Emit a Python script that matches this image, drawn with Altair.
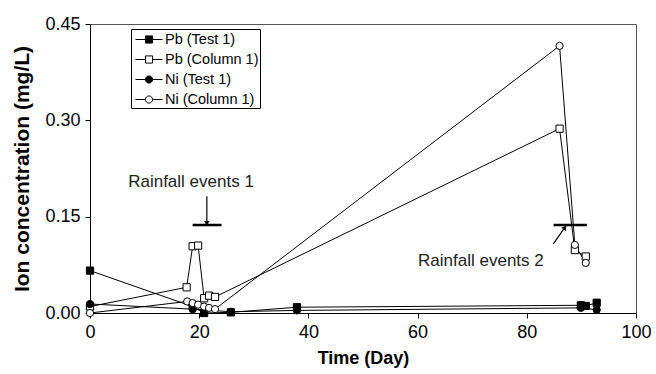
import altair as alt
import pandas as pd

series_names = ["Pb (Test 1)", "Pb (Column 1)", "Ni (Test 1)", "Ni (Column 1)"]

pb_test_day = [0, 18.8, 20.9, 25.8, 37.9, 89.9, 90.8, 92.8]
pb_test_val = [0.066, 0.010, 0.0, 0.001, 0.009, 0.012, 0.011, 0.016]
pb_col_day = [0, 17.7, 18.8, 19.8, 20.9, 21.8, 22.9, 86.0, 88.8, 90.8]
pb_col_val = [0.010, 0.040, 0.104, 0.105, 0.023, 0.027, 0.025, 0.287, 0.098, 0.088]
ni_test_day = [0, 18.8, 25.8, 37.9, 89.9, 92.8]
ni_test_val = [0.014, 0.006, 0.002, 0.004, 0.008, 0.005]
ni_col_day = [0, 17.8, 18.8, 19.8, 20.9, 21.8, 22.9, 86.0, 88.8, 90.8]
ni_col_val = [0.0, 0.018, 0.0155, 0.013, 0.010, 0.008, 0.006, 0.416, 0.106, 0.078]

x_ticks = [0, 20, 40, 60, 80, 100]
y_ticks = [0.0, 0.15, 0.30, 0.45]

# annotations (data units)
ann_text = ["Rainfall events 1", "Rainfall events 2"]
ann_x = [18.5, 71.6]
ann_y = [0.2045, 0.0815]
bar_x1 = [18.8, 84.9]
bar_x2 = [24.1, 91.0]
bar_y = [0.137, 0.137]
arrow_x1 = [21.4, 84.85]
arrow_y1 = [0.1816, 0.1075]
arrow_x2 = [21.4, 86.98]
arrow_y2 = [0.1395, 0.1333]
arrow_angle = [180, 35]

rows = []
for name, days, vals in [
    (series_names[0], pb_test_day, pb_test_val),
    (series_names[1], pb_col_day, pb_col_val),
    (series_names[2], ni_test_day, ni_test_val),
    (series_names[3], ni_col_day, ni_col_val),
]:
    for d, v in zip(days, vals):
        rows.append({"series": name, "Day": d, "Conc": v})
df = pd.DataFrame(rows)

ann_df = pd.DataFrame({"text": ann_text, "x": ann_x, "y": ann_y})
bar_df = pd.DataFrame({"x1": bar_x1, "x2": bar_x2, "y": bar_y})
arr_df = pd.DataFrame({"x1": arrow_x1, "y1": arrow_y1, "x2": arrow_x2, "y2": arrow_y2,
                       "angle": arrow_angle})

FONT = "Liberation Sans"

xscale = alt.Scale(domain=[0, 100], nice=False, zero=False)
yscale = alt.Scale(domain=[0, 0.45], nice=False)

x_enc = alt.X("Day:Q", scale=xscale,
              axis=alt.Axis(title="Time (Day)", values=x_ticks, format="d"))
y_enc = alt.Y("Conc:Q", scale=yscale,
              axis=alt.Axis(title="Ion concentration (mg/L)", values=y_ticks, format=".2f",
                            titleFontSize=21))

fill_scale = alt.Scale(domain=series_names, range=["black", "white", "black", "white"])
stroke_scale = alt.Scale(domain=series_names, range=["black", "black", "black", "black"])

lines = alt.Chart(df).mark_line(color="black", strokeWidth=1).encode(
    x=x_enc, y=y_enc, detail="series:N", order="Day:Q"
)

points = alt.Chart(df).mark_point(filled=True, size=52, stroke="black", strokeWidth=1, opacity=1).encode(
    x="Day:Q", y="Conc:Q",
    shape=alt.Shape("series:N", scale=alt.Scale(domain=series_names,
                    range=["square", "square", "circle", "circle"]), legend=None),
    fill=alt.Fill("series:N", scale=fill_scale, legend=None),
)

# legend glyphs: line stub with a marker in the middle
sq_path = "M-1.59,0H-0.42M0.42,0H1.59M-0.42,-0.42H0.42V0.42H-0.42Z"
ci_path = ("M-1.59,0H-0.42M0.42,0H1.59M0.42,0A0.42,0.42 0 1,1 -0.42,0"
           "A0.42,0.42 0 1,1 0.42,0Z")


def make_legend():
    return alt.Legend(title=None, orient="none", legendX=41, legendY=5,
                      symbolSize=289, symbolStrokeColor="black",
                      symbolStrokeWidth=1, labelFontSize=14.5, labelFont=FONT,
                      labelColor="black", labelOffset=7, padding=1.5,
                      symbolOffset=7.5, rowPadding=4,
                      strokeColor="black", fillColor="white")


legend_layer = alt.Chart(df).transform_filter("false").mark_point(
    filled=True, strokeWidth=1, opacity=1
).encode(
    x="Day:Q", y="Conc:Q",
    shape=alt.Shape("series:N", scale=alt.Scale(domain=series_names,
                    range=[sq_path, sq_path, ci_path, ci_path]),
                    legend=make_legend()),
    fill=alt.Fill("series:N", scale=fill_scale, legend=make_legend()),
    stroke=alt.Stroke("series:N", scale=stroke_scale, legend=make_legend()),
)

ann_text_layer = alt.Chart(ann_df).mark_text(fontSize=17, font=FONT, color="#222").encode(
    x=alt.X("x:Q", scale=xscale), y=alt.Y("y:Q", scale=yscale), text="text:N"
)

bars = alt.Chart(bar_df).mark_rule(color="black", strokeWidth=2.5).encode(
    x=alt.X("x1:Q", scale=xscale), x2="x2:Q", y=alt.Y("y:Q", scale=yscale)
)

arrows = alt.Chart(arr_df).mark_rule(color="black", strokeWidth=1.2).encode(
    x=alt.X("x1:Q", scale=xscale), x2="x2:Q",
    y=alt.Y("y1:Q", scale=yscale), y2="y2:Q"
)

heads = alt.Chart(arr_df).mark_point(shape="triangle-up", filled=True, color="black",
                                     size=30, opacity=1).encode(
    x=alt.X("x2:Q", scale=xscale), y=alt.Y("y2:Q", scale=yscale),
    angle=alt.Angle("angle:Q", scale=None)
)

chart = alt.layer(
    lines, points, bars, arrows, heads, ann_text_layer, legend_layer
).resolve_scale(
    shape="independent", fill="independent", stroke="independent"
).properties(
    width=546, height=289,
    autosize=alt.AutoSizeParams(type="none"),
    padding={"left": 90, "top": 24, "right": 20, "bottom": 61},
    background="white",
).configure_view(
    stroke="#555", strokeWidth=1
).configure_axis(
    grid=False, domainColor="black", tickColor="black", labelColor="black",
    titleColor="black", labelFont=FONT, titleFont=FONT, labelFontSize=18,
    titleFontSize=18, titleFontWeight="bold", tickSize=5, labelPadding=5,
    domainWidth=1, tickWidth=1,
).configure_axisX(
    titlePadding=8, labelFlush=False
).configure_axisY(
    titlePadding=12
)

chart.save("out.html", embed_options={"renderer": "svg", "actions": False})
